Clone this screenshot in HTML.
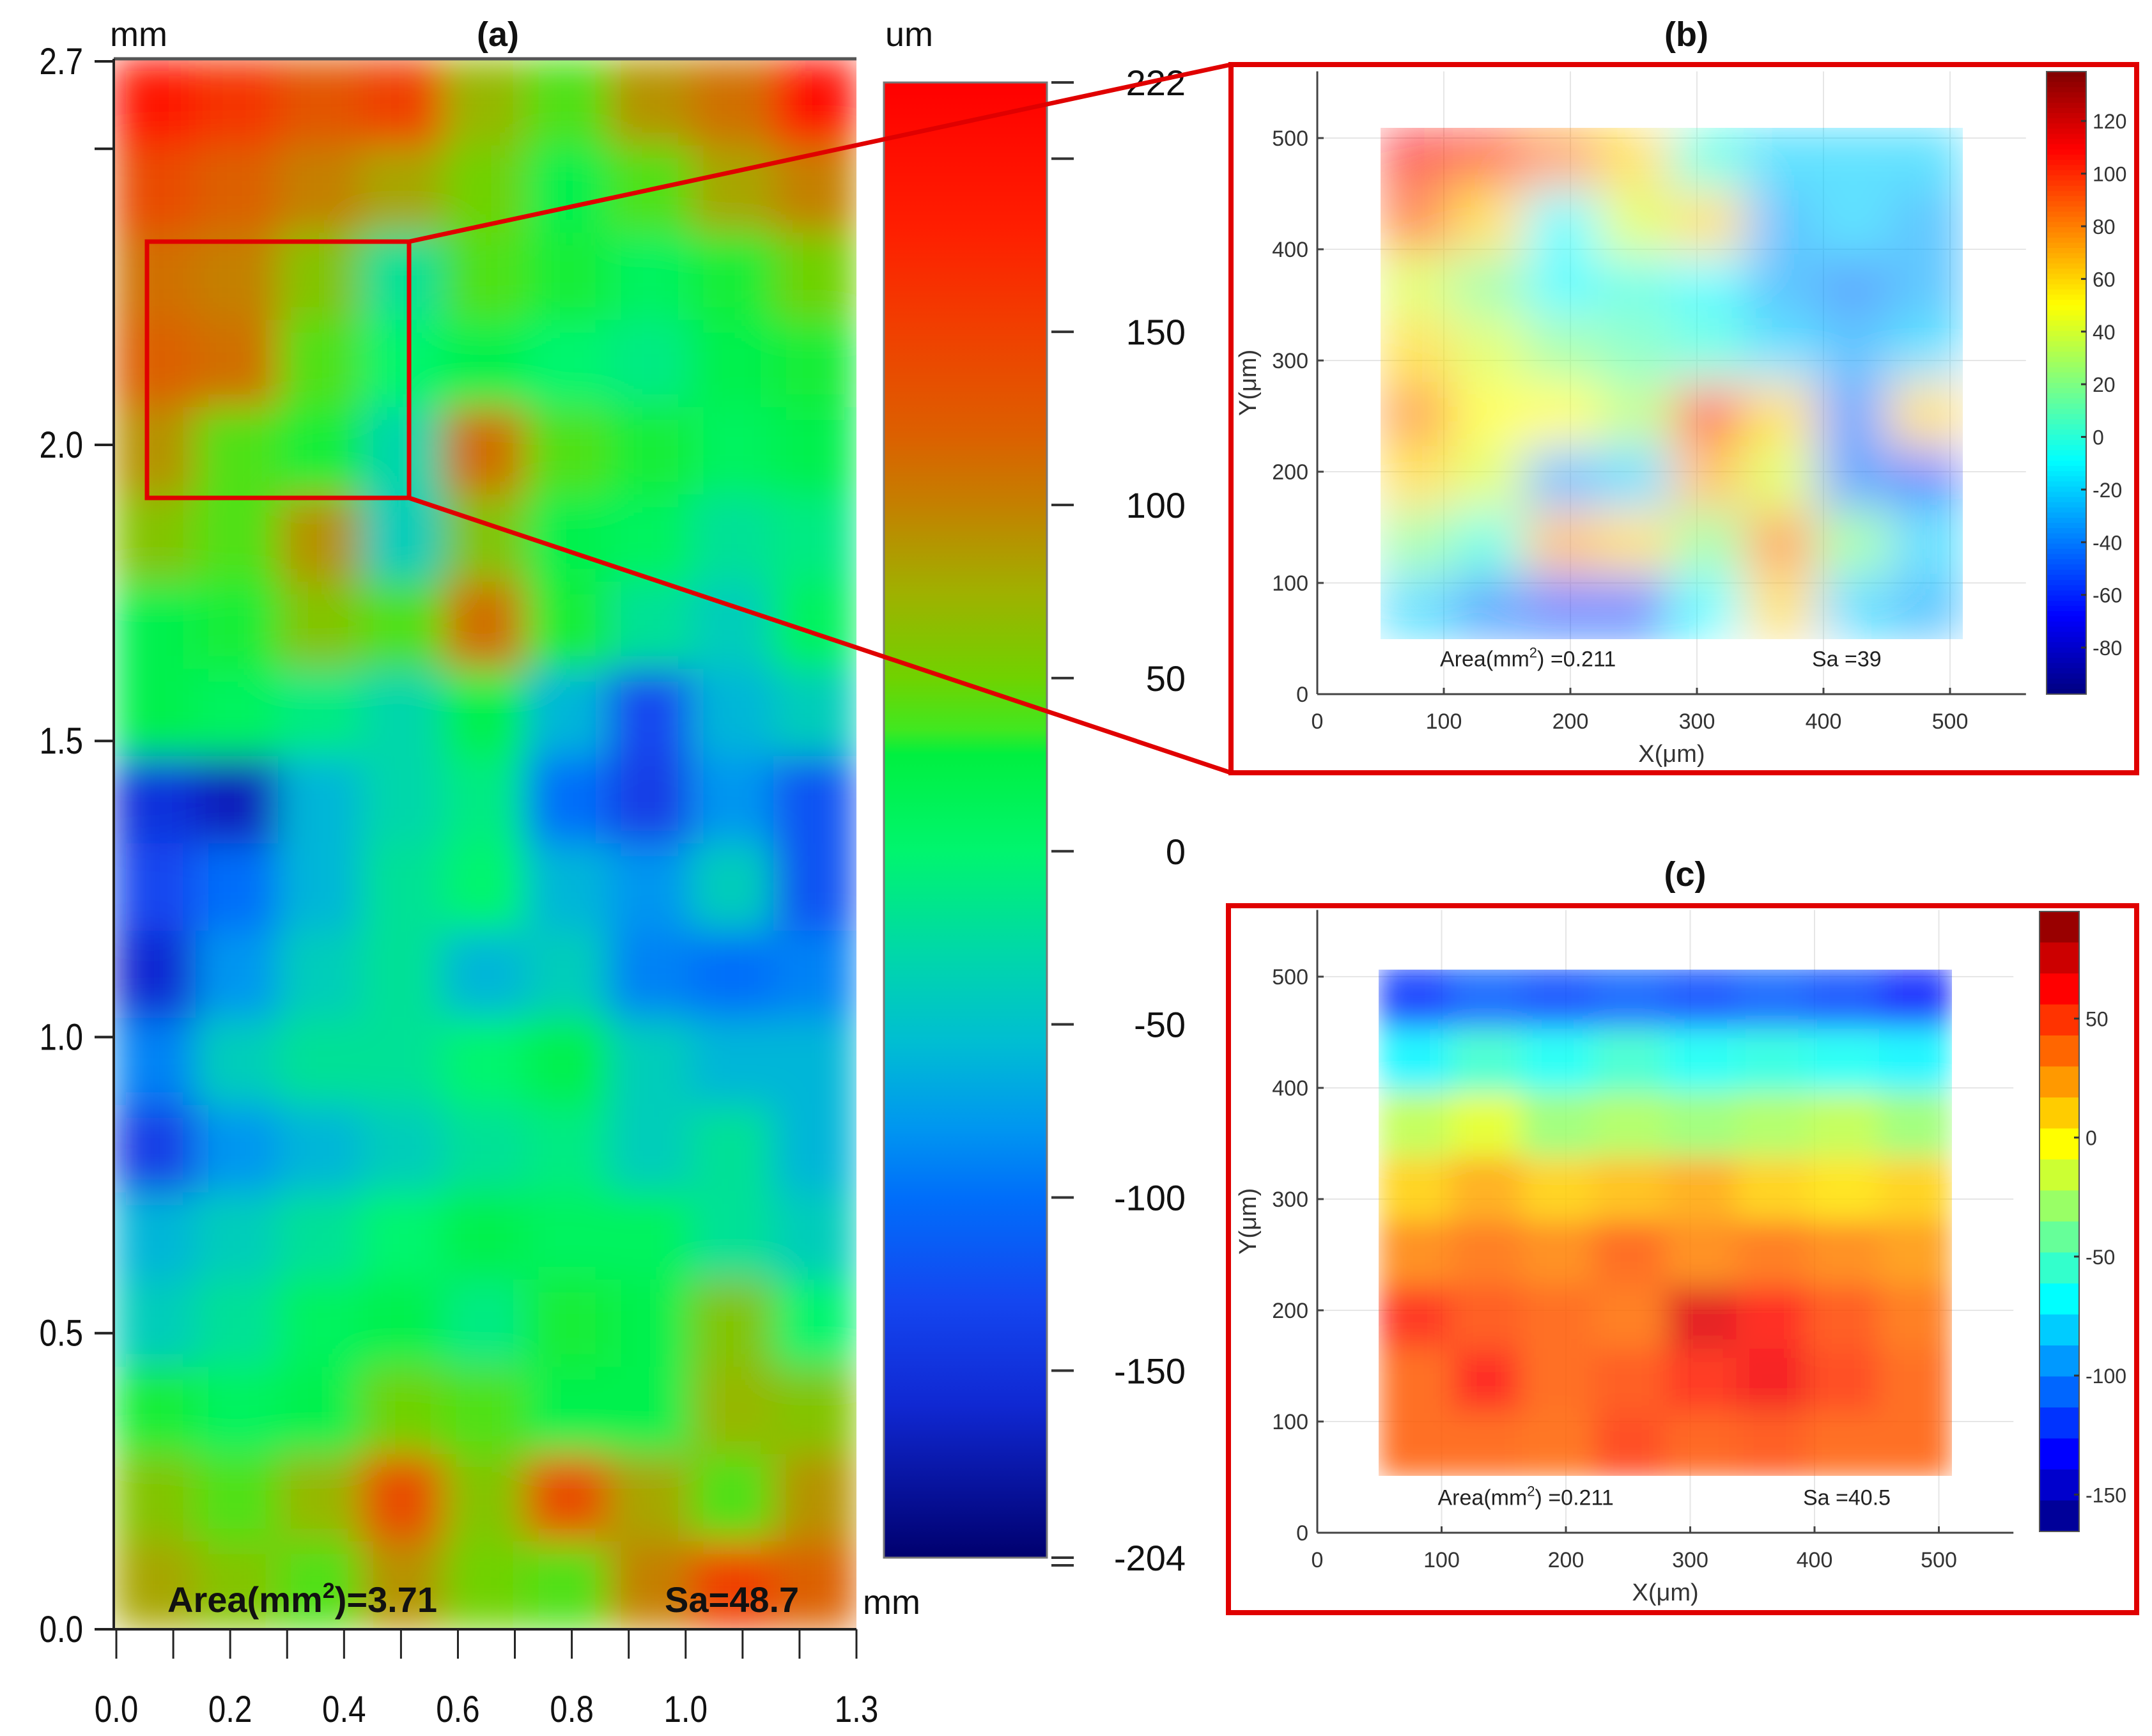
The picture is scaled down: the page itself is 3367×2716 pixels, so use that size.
<!DOCTYPE html>
<html><head><meta charset="utf-8"><style>
html,body{margin:0;padding:0;background:#fff;}
svg{display:block;font-family:"Liberation Sans",Arial,sans-serif;}
</style></head><body>
<svg id="fig" width="3367" height="2716" viewBox="0 0 3367 2716" xmlns="http://www.w3.org/2000/svg">
<defs>
<filter id="blurA" x="0" y="0" width="1" height="1"><feGaussianBlur stdDeviation="30" edgeMode="duplicate"/></filter>
<filter id="blurB" x="0" y="0" width="1" height="1"><feGaussianBlur stdDeviation="36" edgeMode="duplicate"/></filter>
<filter id="blurC" x="0" y="0" width="1" height="1"><feGaussianBlur stdDeviation="22" edgeMode="duplicate"/></filter>
<clipPath id="clipA"><rect x="178" y="92" width="1162" height="2457"/></clipPath>
<clipPath id="clipB"><rect x="2160" y="200" width="911" height="800"/></clipPath>
<clipPath id="clipC"><rect x="2155" y="1517" width="903" height="792"/></clipPath>
</defs>
<g id="gA"></g>
<g id="gB"></g>
<g id="gC"></g>
<g id="gOver"></g>
</svg>
<script>
// ---------- DATA ----------
const heightA = [
 [190,160,130,150,70,40,90,110,200],
 [140,120,100,80,50,20,40,80,100],
 [110,100,60,-20,40,30,10,30,50],
 [120,110,40,0,20,0,-10,20,30],
 [90,40,30,-30,110,40,30,10,20],
 [60,40,90,-40,60,20,10,-20,-10],
 [20,30,60,40,110,30,-20,-40,10],
 [20,10,-10,-30,20,-60,-130,-60,-40],
 [-150,-170,-60,-30,-10,-100,-140,-80,-120],
 [-130,-100,-60,-20,0,-60,-80,-40,-120],
 [-160,-80,-40,-20,-60,-40,-90,-100,-90],
 [-90,-40,-20,-20,0,20,-40,-60,-60],
 [-140,-80,-60,-40,-20,-10,-40,-20,-60],
 [-60,-40,-20,0,20,10,10,-20,-40],
 [-40,-20,10,20,-10,30,20,60,0],
 [30,10,20,50,40,20,20,70,60],
 [60,40,70,140,60,140,80,40,90],
 [80,60,40,90,50,40,100,150,120]
];
const xTicksA = [0.0,0.2,0.4,0.6,0.8,1.0,1.3];
const xMinorA = [0,0.1,0.2,0.3,0.4,0.5,0.6,0.7,0.8,0.9,1.0,1.1,1.2,1.3];
const yTicksA = [0.0,0.5,1.0,1.5,2.0];
const cbTicksA = [222,150,100,50,0,-50,-100,-150,-204];
const heightB = [
 [110,100,80,60,0,-20,-20,-20],
 [90,60,-10,40,60,-30,-20,-30],
 [40,20,-10,0,-10,-30,-40,-30],
 [60,40,20,10,0,-20,-30,-20],
 [80,50,50,30,100,60,-40,60],
 [60,40,-30,-20,70,40,-40,-50],
 [20,0,70,60,20,80,20,-20],
 [-20,-40,-50,-50,-10,60,-20,-30]
];
const cbTicksB = [120,100,80,60,40,20,0,-20,-40,-60,-80];
const heightC = [
 [-120,-110,-115,-110,-115,-110,-115,-125],
 [-70,-55,-65,-55,-65,-60,-65,-70],
 [-20,-10,-30,-25,-30,-25,-20,-30],
 [10,20,10,15,20,10,5,10],
 [30,35,30,40,30,35,30,25],
 [55,45,40,35,70,60,45,35],
 [40,60,40,45,55,65,50,40],
 [40,40,38,50,42,45,40,40]
];
const cbTicksC = [50,0,-50,-100,-150];
const axTicksBC = [0,100,200,300,400,500];

// ---------- helpers ----------
const NS="http://www.w3.org/2000/svg";
function mk(parent,tag,attrs,text){const e=document.createElementNS(NS,tag);for(const k in attrs)e.setAttribute(k,attrs[k]);if(text!==undefined)e.textContent=text;parent.appendChild(e);return e;}
function lerpStops(stops,v){
  if(v>=stops[0][0])return stops[0][1];
  for(let i=1;i<stops.length;i++){if(v>=stops[i][0]){const a=stops[i-1],b=stops[i];const t=(v-b[0])/(a[0]-b[0]);return b[1].map((c,j)=>Math.round(c+(a[1][j]-c)*t));}}
  return stops[stops.length-1][1];
}
const rgb=c=>`rgb(${c[0]},${c[1]},${c[2]})`;
const stopsA=[[222,[255,0,0]],[180,[255,30,0]],[150,[240,64,0]],[120,[220,96,0]],[100,[196,128,0]],[75,[160,176,0]],[50,[112,210,0]],[35,[64,232,32]],[28,[0,240,64]],[0,[0,245,110]],[-30,[0,215,170]],[-55,[0,190,210]],[-80,[0,150,240]],[-100,[0,110,250]],[-130,[20,70,240]],[-160,[16,40,210]],[-204,[0,0,110]]];
const jet=t=>{t=Math.max(0,Math.min(1,t));const r=Math.min(1,Math.max(0,1.5-Math.abs(4*t-3))),g=Math.min(1,Math.max(0,1.5-Math.abs(4*t-2))),b=Math.min(1,Math.max(0,1.5-Math.abs(4*t-1)));return [r*255,g*255,b*255].map(Math.round);};

// ---------- Panel A ----------
const gA=document.getElementById('gA');
const xA=v=>182+v*(1340-182)/1.3;
const yA=v=>2549-v*926.5;
const cbA=v=>129+(222-v)/426*(2437-129);
{
 const hg=mk(gA,'g',{'clip-path':'url(#clipA)'});
 
 const inner=mk(hg,'g',{filter:'url(#blurA)'});
 const rows=heightA.length,cols=heightA[0].length;
 const top=92,bot=2549,l=178,r=1340;
 const ch=(bot-top)/rows,cw=(r-l)/cols;
 heightA.forEach((row,i)=>row.forEach((v,j)=>{
  const c=mk(inner,'rect',{x:l+j*cw-1,y:top+i*ch-1,width:cw+2,height:ch+2,fill:rgb(lerpStops(stopsA,v))});
  
 }));
 mk(gA,'line',{x1:178,y1:92,x2:1340,y2:92,stroke:'#555','stroke-width':5});
 mk(gA,'line',{x1:178,y1:92,x2:178,y2:2549,stroke:'#222','stroke-width':4});
 mk(gA,'line',{x1:178,y1:2549,x2:1340,y2:2549,stroke:'#222','stroke-width':4});
 yTicksA.forEach(v=>{
  mk(gA,'line',{x1:148,y1:yA(v),x2:178,y2:yA(v),stroke:'#222','stroke-width':4});
  const t=mk(gA,'text',{x:130,y:yA(v)+20,'font-size':58,'text-anchor':'end',fill:'#111',transform:`translate(130 0) scale(0.85 1) translate(-130 0)`},v.toFixed(1));
  
 });
 mk(gA,'line',{x1:148,y1:96,x2:178,y2:96,stroke:'#222','stroke-width':4});
 mk(gA,'line',{x1:148,y1:yA(2.5),x2:178,y2:yA(2.5),stroke:'#222','stroke-width':4});
 const t27=mk(gA,'text',{x:130,y:116,'font-size':58,'text-anchor':'end',fill:'#111',transform:`translate(130 0) scale(0.85 1) translate(-130 0)`},'2.7');
 
 xMinorA.forEach(v=>mk(gA,'line',{x1:xA(v),y1:2549,x2:xA(v),y2:2595,stroke:'#222','stroke-width':3}));
 xTicksA.forEach(v=>{
  const t=mk(gA,'text',{x:xA(v),y:2694,'font-size':58,'text-anchor':'middle',fill:'#111',transform:`translate(${xA(v)} 0) scale(0.85 1) translate(${-xA(v)} 0)`},v.toFixed(1));
  
 });
 const mm1=mk(gA,'text',{x:172,y:72,'font-size':54,fill:'#111'},'mm');
 const mm2=mk(gA,'text',{x:1350,y:2525,'font-size':54,fill:'#111'},'mm');
 const ta=mk(gA,'text',{x:779,y:72,'font-size':54,'font-weight':'bold','text-anchor':'middle',fill:'#111'},'(a)');
 const ar=mk(gA,'text',{x:262,y:2522,'font-size':56,'font-weight':'bold',fill:'#111'});
 ar.innerHTML='Area(mm<tspan font-size="34" dy="-22">2</tspan><tspan dy="22">)=3.71</tspan>';
 
 const sa=mk(gA,'text',{x:1040,y:2522,'font-size':56,'font-weight':'bold',fill:'#111'},'Sa=48.7');
 const gd=mk(mk(gA,'defs',{}),'linearGradient',{id:'gradA',x1:0,y1:0,x2:0,y2:1});
 stopsA.forEach(s=>mk(gd,'stop',{offset:(cbA(s[0])-129)/(2437-129),'stop-color':rgb(s[1])}));
 const cb=mk(gA,'rect',{x:1383,y:129,width:255,height:2308,fill:'url(#gradA)',stroke:'#777','stroke-width':3});
 
 const um=mk(gA,'text',{x:1385,y:72,'font-size':54,fill:'#111'},'um');
 cbTicksA.forEach(v=>{
  mk(gA,'line',{x1:1645,y1:cbA(v),x2:1680,y2:cbA(v),stroke:'#333','stroke-width':4});
  const t=mk(gA,'text',{x:1855,y:cbA(v)+20,'font-size':56,'text-anchor':'end',fill:'#111'},String(v));
  
 });
 [200].forEach(v=>mk(gA,'line',{x1:1645,y1:cbA(v),x2:1680,y2:cbA(v),stroke:'#333','stroke-width':4}));
 mk(gA,'line',{x1:1645,y1:cbA(-204)+12,x2:1680,y2:cbA(-204)+12,stroke:'#333','stroke-width':4});
}

// ---------- Panels B & C ----------
function matPanel(g,opt){
 const {x0,y0,pxX,pxY,data,cmap,filter,clip,opacity,cbX,cbTop,cbBot,cbMax,cbMin,cbTicks,cbBands,sa,title,titleY,box}=opt;
 const X=v=>x0+v*pxX/100, Y=v=>y0-v*pxY/100;
 const b=mk(g,'rect',{x:box[0],y:box[1],width:box[2],height:box[3],fill:'none',stroke:'#e00000','stroke-width':8});
 
 const tt=mk(g,'text',{x:(box[0]+box[0]+box[2])/2+4,y:titleY,'font-size':54,'font-weight':'bold','text-anchor':'middle',fill:'#111'},title);
 
 axTicksBC.forEach(v=>{
  mk(g,'line',{x1:X(v),y1:Y(0),x2:X(v),y2:Y(560),stroke:'#e6e6e6','stroke-width':2});
  mk(g,'line',{x1:X(0),y1:Y(v),x2:X(560),y2:Y(v),stroke:'#e6e6e6','stroke-width':2});
 });
 const hg=mk(g,'g',{'clip-path':`url(#${clip})`,opacity:opacity});
 
 const inner=mk(hg,'g',{filter:`url(#${filter})`});
 const rows=data.length,cols=data[0].length;
 const cw=(510-50)/cols,ch=(510-50)/rows;
 data.forEach((row,i)=>row.forEach((v,j)=>{
  const c=mk(inner,'rect',{x:X(50+j*cw)-1,y:Y(510-i*ch)-1,width:X(50+cw)-X(50)+2,height:Y(0)-Y(ch)+2,fill:rgb(cmap(v))});
  
 }));
 mk(g,'line',{x1:X(0),y1:Y(0),x2:X(560),y2:Y(0),stroke:'#444','stroke-width':3});
 mk(g,'line',{x1:X(0),y1:Y(0),x2:X(0),y2:Y(560),stroke:'#444','stroke-width':3});
 axTicksBC.forEach(v=>{
  mk(g,'line',{x1:X(v),y1:Y(0),x2:X(v),y2:Y(0)-10,stroke:'#444','stroke-width':3});
  mk(g,'line',{x1:X(0),y1:Y(v),x2:X(0)+10,y2:Y(v),stroke:'#444','stroke-width':3});
  const tx=mk(g,'text',{x:X(v),y:Y(0)+54,'font-size':34,'text-anchor':'middle',fill:'#333'},String(v));
  
  const ty=mk(g,'text',{x:X(0)-14,y:Y(v)+12,'font-size':34,'text-anchor':'end',fill:'#333'},String(v));
  
 });
 const xl=mk(g,'text',{x:X(280),y:Y(0)+106,'font-size':38,'text-anchor':'middle',fill:'#333'},'X(μm)');
 
 const yx=X(0)-96,yy=Y(280);
 const yl=mk(g,'text',{x:yx,y:yy,'font-size':38,'text-anchor':'middle',fill:'#333',transform:`rotate(-90 ${yx} ${yy})`},'Y(μm)');
 
 const at=mk(g,'text',{x:X(100)-6,y:Y(25),'font-size':34,fill:'#222'});
 at.innerHTML='Area(mm<tspan font-size="22" dy="-14">2</tspan><tspan dy="14">) =0.211</tspan>';
 
 const st=mk(g,'text',{x:X(400)-18,y:Y(25),'font-size':34,fill:'#222'},sa);
 
 const cbY=v=>cbTop+(cbMax-v)/(cbMax-cbMin)*(cbBot-cbTop);
 const n=cbBands;const bh=(cbBot-cbTop)/n;
 for(let k=0;k<n;k++){
  const v=cbMax-(k+0.5)*(cbMax-cbMin)/n;
  mk(g,'rect',{x:cbX,y:cbTop+k*bh,width:62,height:bh+1,fill:rgb(cmap(v))});
 }
 const cf=mk(g,'rect',{x:cbX,y:cbTop,width:62,height:cbBot-cbTop,fill:'none',stroke:'#555','stroke-width':2});
 
 cbTicks.forEach(v=>{
  mk(g,'line',{x1:cbX+54,y1:cbY(v),x2:cbX+62,y2:cbY(v),stroke:'#333','stroke-width':3});
  const t=mk(g,'text',{x:cbX+72,y:cbY(v)+12,'font-size':32,fill:'#333'},String(v));
  
 });
}
const cmapB=v=>jet((v+97.7)/(138.75+97.7));
matPanel(document.getElementById('gB'),{x0:2061,y0:1086,pxX:198,pxY:174,data:heightB,cmap:cmapB,filter:'blurB',clip:'clipB',opacity:0.62,
 cbX:3202,cbTop:112,cbBot:1086,cbMax:138.75,cbMin:-97.7,cbTicks:cbTicksB,cbBands:120,sa:'Sa =39',title:'(b)',titleY:72,box:[1926,101,1417,1108]});
const cmapC=v=>jet((v+165.5)/(95+165.5));
matPanel(document.getElementById('gC'),{x0:2061,y0:2398,pxX:194.5,pxY:174,data:heightC,cmap:cmapC,filter:'blurC',clip:'clipC',opacity:0.85,
 cbX:3191,cbTop:1426,cbBot:2396,cbMax:95,cbMin:-165.5,cbTicks:cbTicksC,cbBands:20,sa:'Sa =40.5',title:'(c)',titleY:1386,box:[1922,1417,1421,1106]});

// ---------- zoom indicators ----------
const gO=document.getElementById('gOver');
const zr=mk(gO,'rect',{x:230,y:378,width:410,height:401,fill:'none',stroke:'#e00000','stroke-width':7});

const l1=mk(gO,'line',{x1:640,y1:378,x2:1926,y2:101,stroke:'#e00000','stroke-width':7});

const l2=mk(gO,'line',{x1:640,y1:779,x2:1926,y2:1209,stroke:'#e00000','stroke-width':7});

</script>
</body></html>
